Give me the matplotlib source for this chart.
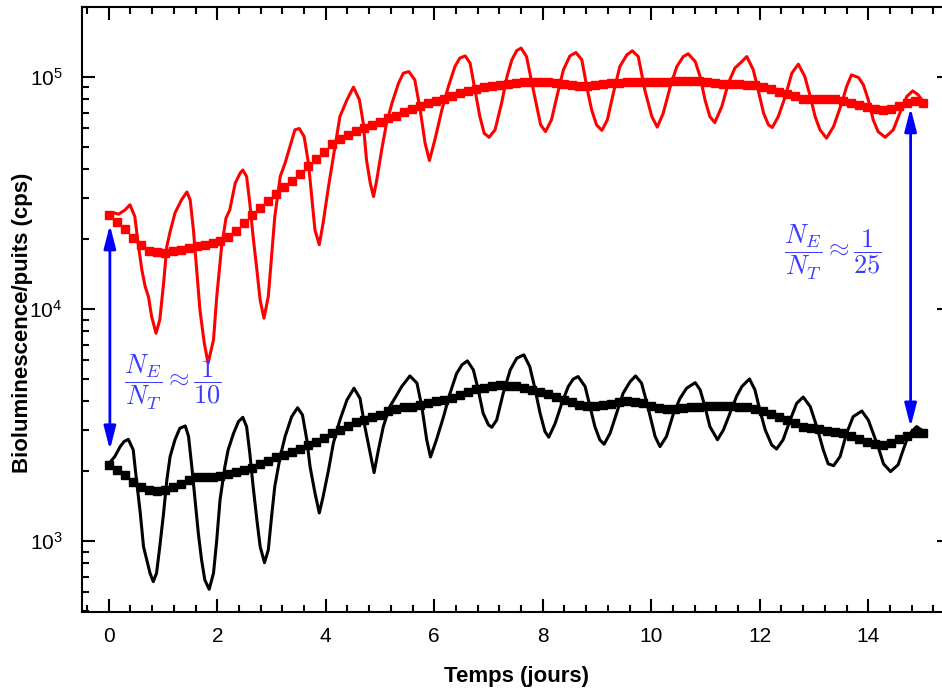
import numpy as np
import matplotlib
matplotlib.use("Agg")
import matplotlib.pyplot as plt
from matplotlib.ticker import MultipleLocator, LogLocator, NullFormatter

plt.rcParams["font.family"] = ["Liberation Sans", "DejaVu Sans"]

# raw bioluminescence, red series (days, cps)
red_days = [0.00, 0.08, 0.18, 0.30, 0.39, 0.48, 0.54, 0.61, 0.67, 0.73, 0.79, 0.87, 0.94, 1.01, 1.07, 1.13,
            1.22, 1.34, 1.44, 1.50, 1.56, 1.62, 1.68, 1.76, 1.83, 1.93, 1.99, 2.08, 2.16, 2.23, 2.33, 2.42,
            2.47, 2.54, 2.60, 2.66, 2.73, 2.79, 2.86, 2.94, 3.00, 3.06, 3.16, 3.25, 3.34, 3.43, 3.51, 3.60,
            3.68, 3.74, 3.80, 3.88, 3.95, 4.05, 4.14, 4.26, 4.39, 4.51, 4.62, 4.69, 4.75, 4.82, 4.88, 4.94,
            5.03, 5.12, 5.22, 5.34, 5.43, 5.53, 5.64, 5.74, 5.83, 5.91, 6.01, 6.14, 6.26, 6.38, 6.47, 6.57,
            6.66, 6.75, 6.84, 6.92, 7.01, 7.12, 7.24, 7.34, 7.43, 7.52, 7.60, 7.70, 7.80, 7.89, 7.96, 8.05,
            8.16, 8.26, 8.38, 8.50, 8.61, 8.72, 8.81, 8.90, 8.99, 9.09, 9.19, 9.30, 9.42, 9.55, 9.65, 9.76,
            9.88, 10.01, 10.11, 10.22, 10.35, 10.47, 10.59, 10.68, 10.81, 10.90, 10.99, 11.08, 11.17, 11.30,
            11.42, 11.54, 11.67, 11.76, 11.88, 11.97, 12.07, 12.16, 12.23, 12.34, 12.47, 12.59, 12.71, 12.83,
            12.93, 13.02, 13.11, 13.23, 13.36, 13.51, 13.60, 13.69, 13.82, 13.91, 14.00, 14.09, 14.18, 14.31,
            14.46, 14.58, 14.71, 14.82, 14.92, 15.01]
red_vals = [25800, 26000, 25600, 26700, 28100, 25000, 19200, 14700, 12500, 11300, 9270, 7860, 8970, 12900, 18600, 21500,
            25900, 29500, 31900, 29500, 21900, 14700, 9900, 7120, 5840, 7350, 11300, 18600, 24600, 26700, 34800, 38400,
            39700, 37200, 28500, 20500, 14700, 10900, 9120, 11300, 16800, 25000, 37200, 42500, 50100, 59100, 59900, 55300,
            42500, 30500, 21900, 18900, 23400, 33700, 45300, 67400, 79600, 90300, 79600, 63200, 43900, 34800, 30500, 36000,
            48500, 63200, 77000, 93900, 103700, 105400, 97100, 72100, 51800, 43600, 53500, 72100, 90800, 110700, 120400, 123100,
            114500, 87800, 67400, 57100, 54900, 59100, 77000, 100300, 118400, 129800, 133000, 122300, 93900, 74500, 62100, 58100,
            65300, 82300, 107200, 123100, 127300, 118400, 90800, 72100, 62100, 58800, 65300, 85000, 110700, 124400, 129500, 122300,
            87800, 67400, 60700, 69700, 90800, 110700, 122300, 125700, 116400, 100300, 79600, 67400, 63500, 74500,
            93900, 109000, 116400, 122300, 107200, 87800, 69700, 62100, 60500, 67400, 82300, 103700, 113400, 100300,
            82300, 67400, 59100, 54400, 61100, 77000, 90800, 102000, 99300, 92300, 79600, 65300, 58100, 54900,
            59100, 69700, 82300, 87000, 83600, 78200]

# raw bioluminescence, black series
black_days = [0.00, 0.11, 0.21, 0.28, 0.36, 0.45, 0.51, 0.58, 0.64, 0.70, 0.76, 0.82, 0.88, 0.94, 1.01, 1.07,
              1.13, 1.22, 1.31, 1.41, 1.47, 1.53, 1.59, 1.65, 1.71, 1.77, 1.85, 1.93, 1.99, 2.05, 2.14, 2.20,
              2.30, 2.39, 2.47, 2.54, 2.60, 2.66, 2.73, 2.79, 2.87, 2.94, 3.00, 3.06, 3.16, 3.25, 3.37, 3.48,
              3.57, 3.65, 3.71, 3.80, 3.88, 3.95, 4.05, 4.14, 4.26, 4.39, 4.52, 4.63, 4.72, 4.82, 4.89, 4.97,
              5.06, 5.18, 5.31, 5.40, 5.55, 5.68, 5.77, 5.86, 5.93, 6.04, 6.17, 6.29, 6.41, 6.51, 6.61, 6.72,
              6.81, 6.90, 7.00, 7.06, 7.15, 7.27, 7.40, 7.52, 7.65, 7.76, 7.86, 7.95, 8.04, 8.11, 8.23, 8.35,
              8.47, 8.56, 8.65, 8.78, 8.87, 8.96, 9.05, 9.13, 9.24, 9.36, 9.48, 9.61, 9.71, 9.82, 9.92, 9.98,
              10.07, 10.16, 10.28, 10.41, 10.53, 10.65, 10.81, 10.90, 10.99, 11.08, 11.22, 11.33, 11.45, 11.57,
              11.67, 11.81, 11.91, 12.00, 12.10, 12.22, 12.31, 12.43, 12.56, 12.68, 12.80, 12.93, 13.05, 13.17,
              13.26, 13.36, 13.48, 13.60, 13.72, 13.88, 14.00, 14.09, 14.18, 14.28, 14.41, 14.55, 14.62, 14.71,
              14.80, 14.89, 14.98]
black_vals = [2150, 2310, 2550, 2680, 2740, 2470, 1830, 1320, 945, 829, 726, 668, 726, 945, 1320, 1830,
              2310, 2730, 3060, 3130, 2820, 2090, 1500, 1080, 829, 679, 619, 726, 1010, 1500, 2090, 2470,
              2910, 3270, 3410, 3110, 2380, 1720, 1230, 945, 806, 915, 1270, 1720, 2310, 2820, 3430, 3750,
              3490, 2730, 2090, 1610, 1320, 1550, 2020, 2640, 3320, 4050, 4550, 4120, 3110, 2380, 1970, 2470,
              3110, 3790, 4260, 4630, 5140, 4790, 3790, 2730, 2300, 2730, 3430, 4330, 5260, 5740, 5970, 5460,
              4480, 3550, 3160, 3090, 3320, 4330, 5460, 6130, 6340, 5640, 4480, 3550, 2960, 2800, 3220, 3920,
              4630, 4980, 5110, 4630, 3790, 3110, 2730, 2610, 2910, 3550, 4330, 4860, 5140, 4790, 3920, 3430,
              2820, 2550, 2820, 3550, 4120, 4550, 4810, 4480, 3790, 3110, 2730, 3010, 3550, 4190,
              4630, 4990, 4480, 3670, 3010, 2590, 2490, 2730, 3320, 3920, 4170, 3790, 3110, 2470,
              2150, 2110, 2310, 2910, 3430, 3630, 3320, 2910, 2550, 2150, 1990, 2130, 2380, 2730,
              2960, 3110, 3010]

# smoothed trend (square markers), 103 samples over 15 days
red_trend = [25400, 23800, 22100, 20300, 18900, 17800, 17500, 17400, 17700, 18000,
             18300, 18600, 18900, 19200, 19700, 20500, 21600, 23400, 25400, 27200,
             29300, 31300, 33500, 35600, 38200, 41300, 44300, 47600, 51300, 53900,
             56200, 58500, 60100, 62100, 64200, 66400, 67900, 70900, 72800, 75000,
             77000, 78800, 80400, 82800, 85100, 86800, 88800, 90300, 91500, 92400,
             93600, 94200, 94900, 95200, 94900, 94900, 94200, 93300, 92100, 91500,
             91500, 92100, 93000, 93900, 94500, 94900, 95200, 94900, 94900, 94900,
             95400, 96100, 96400, 96400, 96100, 95400, 94500, 93600, 93000, 92700,
             92400, 92100, 90800, 88800, 86400, 84500, 82300, 80600, 80200, 80200,
             80200, 80200, 79000, 77500, 75700, 74000, 72600, 72100, 73000, 75000,
             77000, 78600, 77000]
black_trend = [2130, 2020, 1930, 1800, 1710, 1660, 1640, 1660, 1710, 1760,
               1830, 1880, 1890, 1890, 1910, 1940, 1980, 2020, 2070, 2150,
               2220, 2300, 2350, 2420, 2490, 2580, 2670, 2770, 2910, 3010,
               3140, 3240, 3320, 3410, 3480, 3630, 3720, 3760, 3790, 3860,
               3920, 3990, 4050, 4150, 4260, 4370, 4510, 4580, 4660, 4700,
               4670, 4630, 4550, 4480, 4400, 4300, 4190, 4050, 3950, 3860,
               3820, 3820, 3860, 3900, 3950, 3990, 3960, 3920, 3820, 3730,
               3710, 3710, 3730, 3760, 3790, 3820, 3830, 3830, 3820, 3790,
               3770, 3710, 3630, 3520, 3430, 3320, 3220, 3110, 3060, 3030,
               2990, 2960, 2910, 2820, 2740, 2680, 2620, 2590, 2650, 2740,
               2820, 2910, 2910]
trend_days = np.linspace(0, 15, len(red_trend))

# ratio arrows: (day, bottom cps, top cps)
arrow_start = (0.02, 2470, 23000)
arrow_end = (14.78, 3100, 73500)

fig = plt.figure(figsize=(9.42, 6.93), dpi=100)
ax = fig.add_axes([82 / 942, 1 - 612 / 693, 868 / 942, 605 / 693])
ax.set_yscale("log")

ax.plot(red_days, red_vals, color="#ff0000", lw=2.2, zorder=3)
ax.plot(trend_days, red_trend, "s", color="#ff0000", ms=5.6, zorder=4)
ax.plot(black_days, black_vals, color="black", lw=2.2, zorder=3)
ax.plot(trend_days, black_trend, "s", color="black", ms=5.6, zorder=4)

for day, lo, hi in (arrow_start, arrow_end):
    ax.annotate("", xy=(day, hi), xytext=(day, lo),
                arrowprops=dict(arrowstyle="<|-|>,head_length=0.7,head_width=0.18",
                                color="#0000ff", lw=2, shrinkA=0, shrinkB=0,
                                mutation_scale=20), zorder=5)

txt_color = "#3c3cff"
ax.text(1.18, 4800, r"$\dfrac{N_E}{N_T} \approx \dfrac{1}{10}$", color=txt_color,
        fontsize=19, math_fontfamily="cm", ha="center", va="center")
ax.text(13.35, 17600, r"$\dfrac{N_E}{N_T} \approx \dfrac{1}{25}$", color=txt_color,
        fontsize=19, math_fontfamily="cm", ha="center", va="center")

ax.set_xlim(-0.494, 15.506)
ax.set_ylim(494, 2.0e5)

ax.xaxis.set_major_locator(MultipleLocator(2))
ax.xaxis.set_minor_locator(MultipleLocator(0.4))
ax.yaxis.set_major_locator(LogLocator(base=10))
ax.yaxis.set_minor_locator(LogLocator(base=10, subs=np.arange(2, 10)))
ax.yaxis.set_minor_formatter(NullFormatter())

ax.tick_params(which="both", direction="in", top=True, right=True, width=1.5)
ax.tick_params(which="major", length=9.5, labelsize=15)
ax.tick_params(axis="x", which="major", pad=11)
ax.tick_params(axis="y", which="major", pad=14)
ax.tick_params(which="minor", length=5)
for sp in ax.spines.values():
    sp.set_linewidth(1.5)

ax.set_xlabel("Temps (jours)", fontsize=16, fontweight="bold", labelpad=14)
ax.set_ylabel("Bioluminescence/puits (cps)", fontsize=16, fontweight="bold", va="center")
ax.yaxis.set_label_coords(-0.069, 0.478)

fig.savefig("out.png", dpi=100)
